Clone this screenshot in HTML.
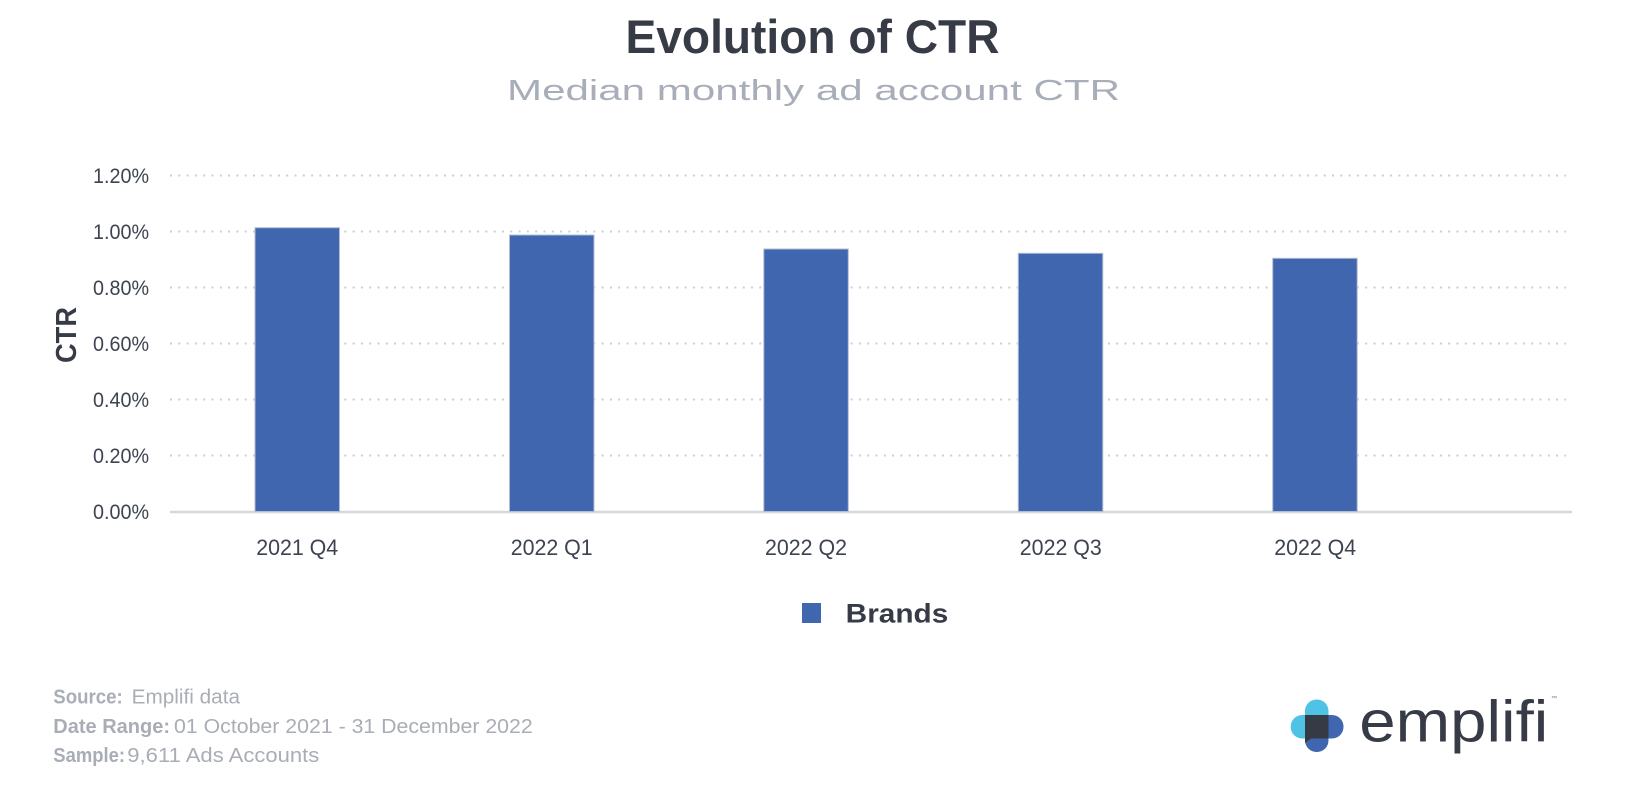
<!DOCTYPE html>
<html>
<head>
<meta charset="utf-8">
<style>
  html,body{margin:0;padding:0;background:#ffffff;}
  svg{display:block;}
  text{font-family:"Liberation Sans",Arial,sans-serif;}
</style>
</head>
<body>
<svg width="1644" height="802" viewBox="0 0 1644 802" xmlns="http://www.w3.org/2000/svg">
  <rect x="0" y="0" width="1644" height="802" fill="#ffffff"/>

  <!-- Title -->
  <text x="812.5" y="53" font-size="47" font-weight="bold" fill="#363b45" text-anchor="middle" textLength="374" lengthAdjust="spacingAndGlyphs">Evolution of CTR</text>
  <text x="813.5" y="100" font-size="29" fill="#a8aeb9" text-anchor="middle" textLength="613" lengthAdjust="spacingAndGlyphs">Median monthly ad account CTR</text>

  <!-- Gridlines (dotted) -->
  <g stroke="#c9ced7" stroke-width="2" stroke-dasharray="2 6.3">
    <line x1="170" y1="175.5" x2="1566" y2="175.5"/>
    <line x1="170" y1="231.5" x2="1566" y2="231.5"/>
    <line x1="170" y1="287.5" x2="1566" y2="287.5"/>
    <line x1="170" y1="343.5" x2="1566" y2="343.5"/>
    <line x1="170" y1="399.5" x2="1566" y2="399.5"/>
    <line x1="170" y1="455.5" x2="1566" y2="455.5"/>
  </g>
  <!-- Baseline -->
  <line x1="170" y1="512" x2="1572" y2="512" stroke="#d3d7df" stroke-width="2.5"/>

  <!-- Y tick labels -->
  <g font-size="21" fill="#3d4350" text-anchor="end">
    <text x="149" y="183" textLength="56" lengthAdjust="spacingAndGlyphs">1.20%</text>
    <text x="149" y="239" textLength="56" lengthAdjust="spacingAndGlyphs">1.00%</text>
    <text x="149" y="295" textLength="56" lengthAdjust="spacingAndGlyphs">0.80%</text>
    <text x="149" y="351" textLength="56" lengthAdjust="spacingAndGlyphs">0.60%</text>
    <text x="149" y="407" textLength="56" lengthAdjust="spacingAndGlyphs">0.40%</text>
    <text x="149" y="463" textLength="56" lengthAdjust="spacingAndGlyphs">0.20%</text>
    <text x="149" y="519" textLength="56" lengthAdjust="spacingAndGlyphs">0.00%</text>
  </g>

  <!-- Y axis title -->
  <text transform="translate(76,335) rotate(-90)" x="0" y="0" font-size="29" font-weight="bold" fill="#363b45" text-anchor="middle" textLength="56" lengthAdjust="spacingAndGlyphs">CTR</text>

  <!-- Bars -->
  <g fill="#4166b0" stroke="#b4bdd0" stroke-width="1">
    <rect x="255" y="227.7" width="84.5" height="283.8"/>
    <rect x="509.5" y="235" width="84.5" height="276.5"/>
    <rect x="763.8" y="249" width="84.5" height="262.5"/>
    <rect x="1018.3" y="253.3" width="84.5" height="258.2"/>
    <rect x="1272.7" y="258.3" width="84.5" height="253.2"/>
  </g>

  <!-- X labels -->
  <g font-size="22" fill="#3d4350" text-anchor="middle">
    <text x="297.2" y="555" textLength="82" lengthAdjust="spacingAndGlyphs">2021 Q4</text>
    <text x="551.7" y="555" textLength="82" lengthAdjust="spacingAndGlyphs">2022 Q1</text>
    <text x="806" y="555" textLength="82" lengthAdjust="spacingAndGlyphs">2022 Q2</text>
    <text x="1060.8" y="555" textLength="82" lengthAdjust="spacingAndGlyphs">2022 Q3</text>
    <text x="1315.2" y="555" textLength="82" lengthAdjust="spacingAndGlyphs">2022 Q4</text>
  </g>

  <!-- Legend -->
  <rect x="802" y="603" width="19" height="20" fill="#4166b0"/>
  <text x="845.7" y="622.3" font-size="27" font-weight="bold" fill="#363b45" textLength="102.6" lengthAdjust="spacingAndGlyphs">Brands</text>

  <!-- Footer -->
  <g font-size="20" fill="#a9adb5">
    <text x="53.3" y="703.3" font-weight="bold" textLength="69.4" lengthAdjust="spacingAndGlyphs">Source:</text>
    <text x="131.7" y="703.3" textLength="108.3" lengthAdjust="spacingAndGlyphs">Emplifi data</text>
    <text x="53.3" y="733" font-weight="bold" textLength="116.7" lengthAdjust="spacingAndGlyphs">Date Range:</text>
    <text x="174" y="733" textLength="358.7" lengthAdjust="spacingAndGlyphs">01 October 2021 - 31 December 2022</text>
    <text x="53.3" y="762" font-weight="bold" textLength="71.7" lengthAdjust="spacingAndGlyphs">Sample:</text>
    <text x="127.3" y="762" textLength="192" lengthAdjust="spacingAndGlyphs">9,611 Ads Accounts</text>
  </g>

  <!-- Logo icon -->
  <g>
    <rect x="1305" y="699.5" width="23.5" height="30" rx="11.5" ry="11.5" fill="#4fc3e6"/>
    <rect x="1290.7" y="715" width="30" height="23.5" rx="11.5" ry="11.5" fill="#4fc3e6"/>
    <rect x="1313.5" y="715" width="30" height="23.5" rx="11.5" ry="11.5" fill="#4166b0"/>
    <rect x="1305" y="722" width="23.5" height="30" rx="11.5" ry="11.5" fill="#4166b0"/>
    <rect x="1305" y="715" width="23.5" height="23.5" fill="#353a44"/>
    <polygon points="1305,738.5 1311,738.5 1305,743" fill="#353a44"/>
  </g>
  <text x="1359.3" y="741.7" font-size="58" fill="#363b45" textLength="189" lengthAdjust="spacingAndGlyphs">emplifi</text>
  <text x="1551" y="700" font-size="6" fill="#6b707a">™</text>
</svg>
</body>
</html>
